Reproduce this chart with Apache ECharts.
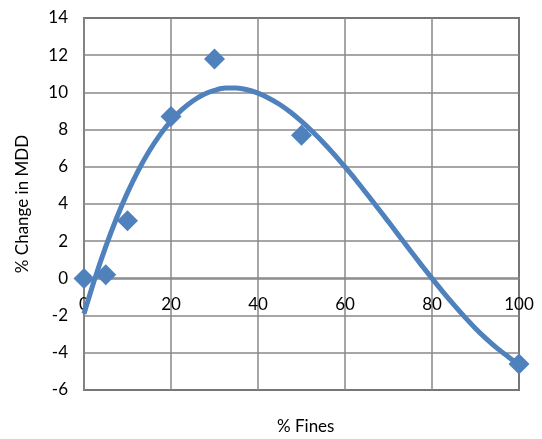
<!DOCTYPE html>
<html>
<head>
<meta charset="utf-8">
<script src="https://cdn.jsdelivr.net/npm/echarts@6/dist/echarts.min.js"></script>
<style>
  html, body { margin: 0; padding: 0; background: #fff; }
  #chart { width: 542px; height: 439px; }
</style>
</head>
<body>
<div id="chart"></div>
<script>
// measured points
var finesX = [0, 5, 10, 20, 30, 50, 100];
var changeY = [0, 0.2, 3.1, 8.7, 11.8, 7.7, -4.6];

// trend line
var trendX = [0, 2.5, 5, 7.5, 10, 12.5, 15, 17.5, 20, 22.5, 25, 27.5, 30, 32.5, 35, 37.5, 40, 42.5, 45, 47.5, 50,
              52.5, 55, 57.5, 60, 62.5, 65, 67.5, 70, 72.5, 75, 77.5, 80, 82.5, 85, 87.5, 90, 92.5, 95, 97.5, 100];
var trendY = [-1.9, 0, 1.71, 3.25, 4.61, 5.81, 6.85, 7.73, 8.47, 9.07, 9.54, 9.89, 10.11, 10.23, 10.23, 10.14, 9.96, 9.69, 9.35, 8.93, 8.44,
              7.9, 7.31, 6.67, 5.99, 5.29, 4.55, 3.8, 3.04, 2.27, 1.5, 0.74, 0, -0.72, -1.41, -2.07, -2.69, -3.25, -3.76, -4.21, -4.64];

var xTicks = { min: 0, max: 100, interval: 20 };
var yTicks = { min: -6, max: 14, interval: 2 };

var blue = '#4F81BD';
var font = 'Lato, "Open Sans", sans-serif';

var pts = [];
for (var i = 0; i < finesX.length; i++) pts.push([finesX[i], changeY[i]]);
var trend = [];
for (var j = 0; j < trendX.length; j++) trend.push([trendX[j], trendY[j]]);

var chart = echarts.init(document.getElementById('chart'));
chart.setOption({
  animation: false,
  grid: {
    left: 84, top: 18, right: 23, bottom: 49,
    show: true, borderColor: '#000', borderWidth: 1.5
  },
  xAxis: {
    type: 'value',
    min: xTicks.min, max: xTicks.max, interval: xTicks.interval,
    // x axis crosses at y = 0, like the original
    offset: -112,
    axisLine: { onZero: false, lineStyle: { color: '#888', width: 1.5 } },
    axisTick: { show: false },
    axisLabel: { color: '#000', fontSize: 17, fontFamily: font, margin: 18 },
    splitLine: { show: true, lineStyle: { color: '#888', width: 1.5 } }
  },
  yAxis: {
    type: 'value',
    min: yTicks.min, max: yTicks.max, interval: yTicks.interval,
    name: '% Change in MDD',
    nameLocation: 'middle',
    nameGap: 53,
    nameTextStyle: { color: '#000', fontSize: 17, fontFamily: font },
    axisLine: { show: true, onZero: false, lineStyle: { color: '#888', width: 1.5 } },
    axisTick: { show: false },
    axisLabel: { color: '#000', fontSize: 17, fontFamily: font, margin: 16 },
    splitLine: { show: true, lineStyle: { color: '#888', width: 1.5 } }
  },
  graphic: [{
    type: 'text',
    left: 277, top: 418,
    style: { text: '% Fines', fill: '#000', fontSize: 17, fontFamily: font }
  }],
  series: [{
    type: 'line',
    data: trend,
    smooth: 0.3,
    showSymbol: false,
    lineStyle: { color: blue, width: 5 },
    z: 2
  }, {
    type: 'scatter',
    data: pts,
    symbol: 'diamond',
    symbolSize: [21, 21],
    itemStyle: { color: blue, opacity: 1 },
    z: 3
  }]
});
</script>
</body>
</html>
